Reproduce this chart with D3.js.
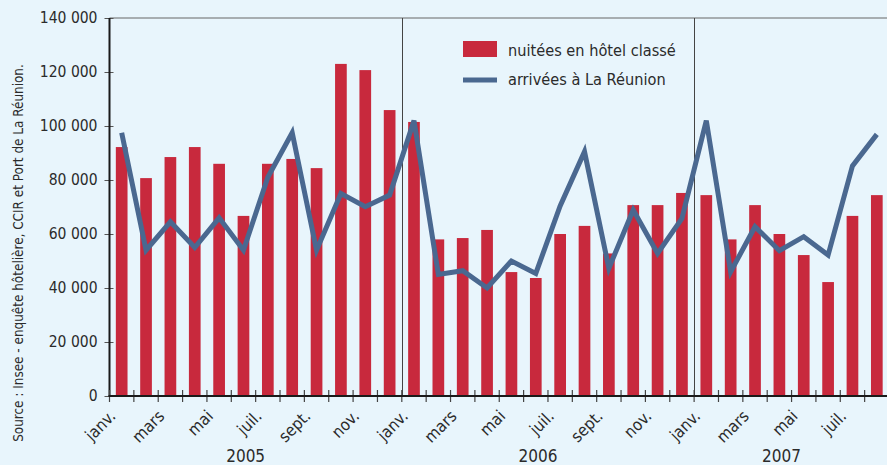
<!DOCTYPE html>
<html>
<head>
<meta charset="utf-8">
<script src="https://cdn.jsdelivr.net/npm/d3@7"></script>
<style>
  body { margin: 0; background: #e8f5fc; }
  svg { display: block; }
  text { font-family: "Liberation Sans Narrow", "DejaVu Sans Condensed", sans-serif; fill: #2b2b2b; }
</style>
</head>
<body>
<div id="chart"></div>
<script>
const months = ["janv.", "févr.", "mars", "avr.", "mai", "juin", "juil.", "août", "sept.", "oct.", "nov.", "déc."];
const years = ["2005", "2006", "2007"];
const monthsPerYear = [12, 12, 8];

// nuitées en hôtel classé (bars)
const nuitees = [
  92200, 80700, 88500, 92200, 86000, 66700, 86000, 87800, 84400, 123000, 120700, 105900,
  101500, 58000, 58500, 61500, 45900, 43700, 60000, 63000, 52800, 70700, 70700, 75200,
  74400, 58000, 70700, 60000, 52200, 42200, 66700, 74400
];
// arrivées à La Réunion (line)
const arrivees = [
  97500, 54000, 64500, 55000, 66000, 54000, 81000, 97500, 54000, 75000, 70100, 74400,
  102000, 45000, 46400, 40000, 50000, 45400, 70400, 90500, 47300, 68900, 52800, 65800,
  102000, 46000, 62700, 53800, 59000, 52200, 85200, 96900
];
const yTicks = [0, 20000, 40000, 60000, 80000, 100000, 120000, 140000];

const width = 887;
const height = 465;
const margin = { left: 109.5, right: -2, top: 18, bottom: 69 };

const periods = [];
years.forEach((y, yi) => {
  for (let m = 0; m < monthsPerYear[yi]; m++) periods.push({ year: y, month: m, key: y + "-" + m });
});
const data = periods.map((p, i) => ({ ...p, nuitees: nuitees[i], arrivees: arrivees[i] }));

const svg = d3.select("#chart").append("svg")
  .attr("width", width)
  .attr("height", height);

const x = d3.scaleBand()
  .domain(periods.map(p => p.key))
  .range([margin.left, width - margin.right])
  .paddingInner(0.52)
  .paddingOuter(0.26);

const step = x.step();
const xStart = k => x(k) - x.paddingInner() * step / 2;
const xMid = k => x(k) + x.bandwidth() / 2;

const y = d3.scaleLinear()
  .domain([0, 140000])
  .range([height - margin.bottom, margin.top]);

const fmt = v => d3.format(",")(v).replace(/,/g, " ");

// top border
svg.append("line")
  .attr("x1", margin.left).attr("x2", width)
  .attr("y1", y(140000)).attr("y2", y(140000))
  .attr("stroke", "#666").attr("stroke-width", 1);

// year dividers
years.slice(1).forEach(yr => {
  const xx = Math.round(xStart(yr + "-0")) + 0.5;
  svg.append("line")
    .attr("x1", xx).attr("x2", xx)
    .attr("y1", y(140000)).attr("y2", y(0))
    .attr("stroke", "#444").attr("stroke-width", 1);
});

// bars
svg.append("g")
  .selectAll("rect")
  .data(data)
  .enter()
  .append("rect")
  .attr("x", d => x(d.key))
  .attr("width", x.bandwidth())
  .attr("y", d => y(d.nuitees))
  .attr("height", d => y(0) - y(d.nuitees))
  .attr("fill", "#c8293d");

// line
const line = d3.line()
  .x(d => xMid(d.key))
  .y(d => y(d.arrivees));

svg.append("path")
  .datum(data)
  .attr("d", line)
  .attr("fill", "none")
  .attr("stroke", "#4a6890")
  .attr("stroke-width", 5)
  .attr("stroke-linejoin", "miter");

// y axis
const yAxis = svg.append("g")
  .attr("transform", `translate(${margin.left},0)`)
  .call(d3.axisLeft(y).tickValues(yTicks).tickFormat(fmt).tickSize(5).tickPadding(7));
yAxis.select(".domain").remove();
yAxis.selectAll(".tick line").attr("stroke", "#555").attr("x2", 4).attr("x1", -5);
yAxis.selectAll(".tick text")
  .attr("font-size", 15.5)
  .attr("font-family", null)
  .attr("fill", "#2b2b2b");
svg.append("line")
  .attr("x1", margin.left).attr("x2", margin.left)
  .attr("y1", y(140000)).attr("y2", y(0))
  .attr("stroke", "#1a1a1a").attr("stroke-width", 2);

// x axis: ticks at month boundaries
const xAxisG = svg.append("g");
xAxisG.selectAll("line.tick")
  .data(periods)
  .enter()
  .append("line")
  .attr("class", "tick")
  .attr("x1", d => xStart(d.key)).attr("x2", d => xStart(d.key))
  .attr("y1", y(0) - 6).attr("y2", y(0) + 6)
  .attr("stroke", "#444").attr("stroke-width", 1.2);
svg.append("line")
  .attr("x1", margin.left - 1).attr("x2", width)
  .attr("y1", y(0)).attr("y2", y(0))
  .attr("stroke", "#1a1a1a").attr("stroke-width", 2);

// month labels every 2 months
xAxisG.selectAll("text.month")
  .data(periods.filter(p => p.month % 2 === 0))
  .enter()
  .append("text")
  .attr("class", "month")
  .attr("text-anchor", "end")
  .attr("font-size", 16.5)
  .attr("transform", d => `translate(${xStart(d.key) - 1},${y(0) + 13}) rotate(-45)`)
  .attr("dy", "0.7em")
  .text(d => months[d.month]);

// year labels
years.forEach((yr, yi) => {
  const n = monthsPerYear[yi];
  const cx = (xStart(yr + "-0") + xStart(yr + "-0") + n * step) / 2 - 10;
  svg.append("text")
    .attr("x", cx)
    .attr("y", 462)
    .attr("text-anchor", "middle")
    .attr("font-size", 17)
    .text(yr);
});

// source
svg.append("text")
  .attr("transform", "translate(23,253) rotate(-90)")
  .attr("text-anchor", "middle")
  .attr("font-size", 13.4)
  .attr("fill", "#333")
  .text("Source : Insee - enquête hôtelière, CCIR et Port de La Réunion.");

// legend
const legend = svg.append("g");
legend.append("rect")
  .attr("x", 463).attr("y", 41).attr("width", 34).attr("height", 16)
  .attr("fill", "#c8293d");
legend.append("text")
  .attr("x", 508).attr("y", 56).attr("font-size", 16.2)
  .text("nuitées en hôtel classé");
legend.append("line")
  .attr("x1", 463).attr("x2", 497).attr("y1", 80).attr("y2", 80)
  .attr("stroke", "#4a6890").attr("stroke-width", 5);
legend.append("text")
  .attr("x", 508).attr("y", 85).attr("font-size", 16.2)
  .text("arrivées à La Réunion");
</script>
</body>
</html>
